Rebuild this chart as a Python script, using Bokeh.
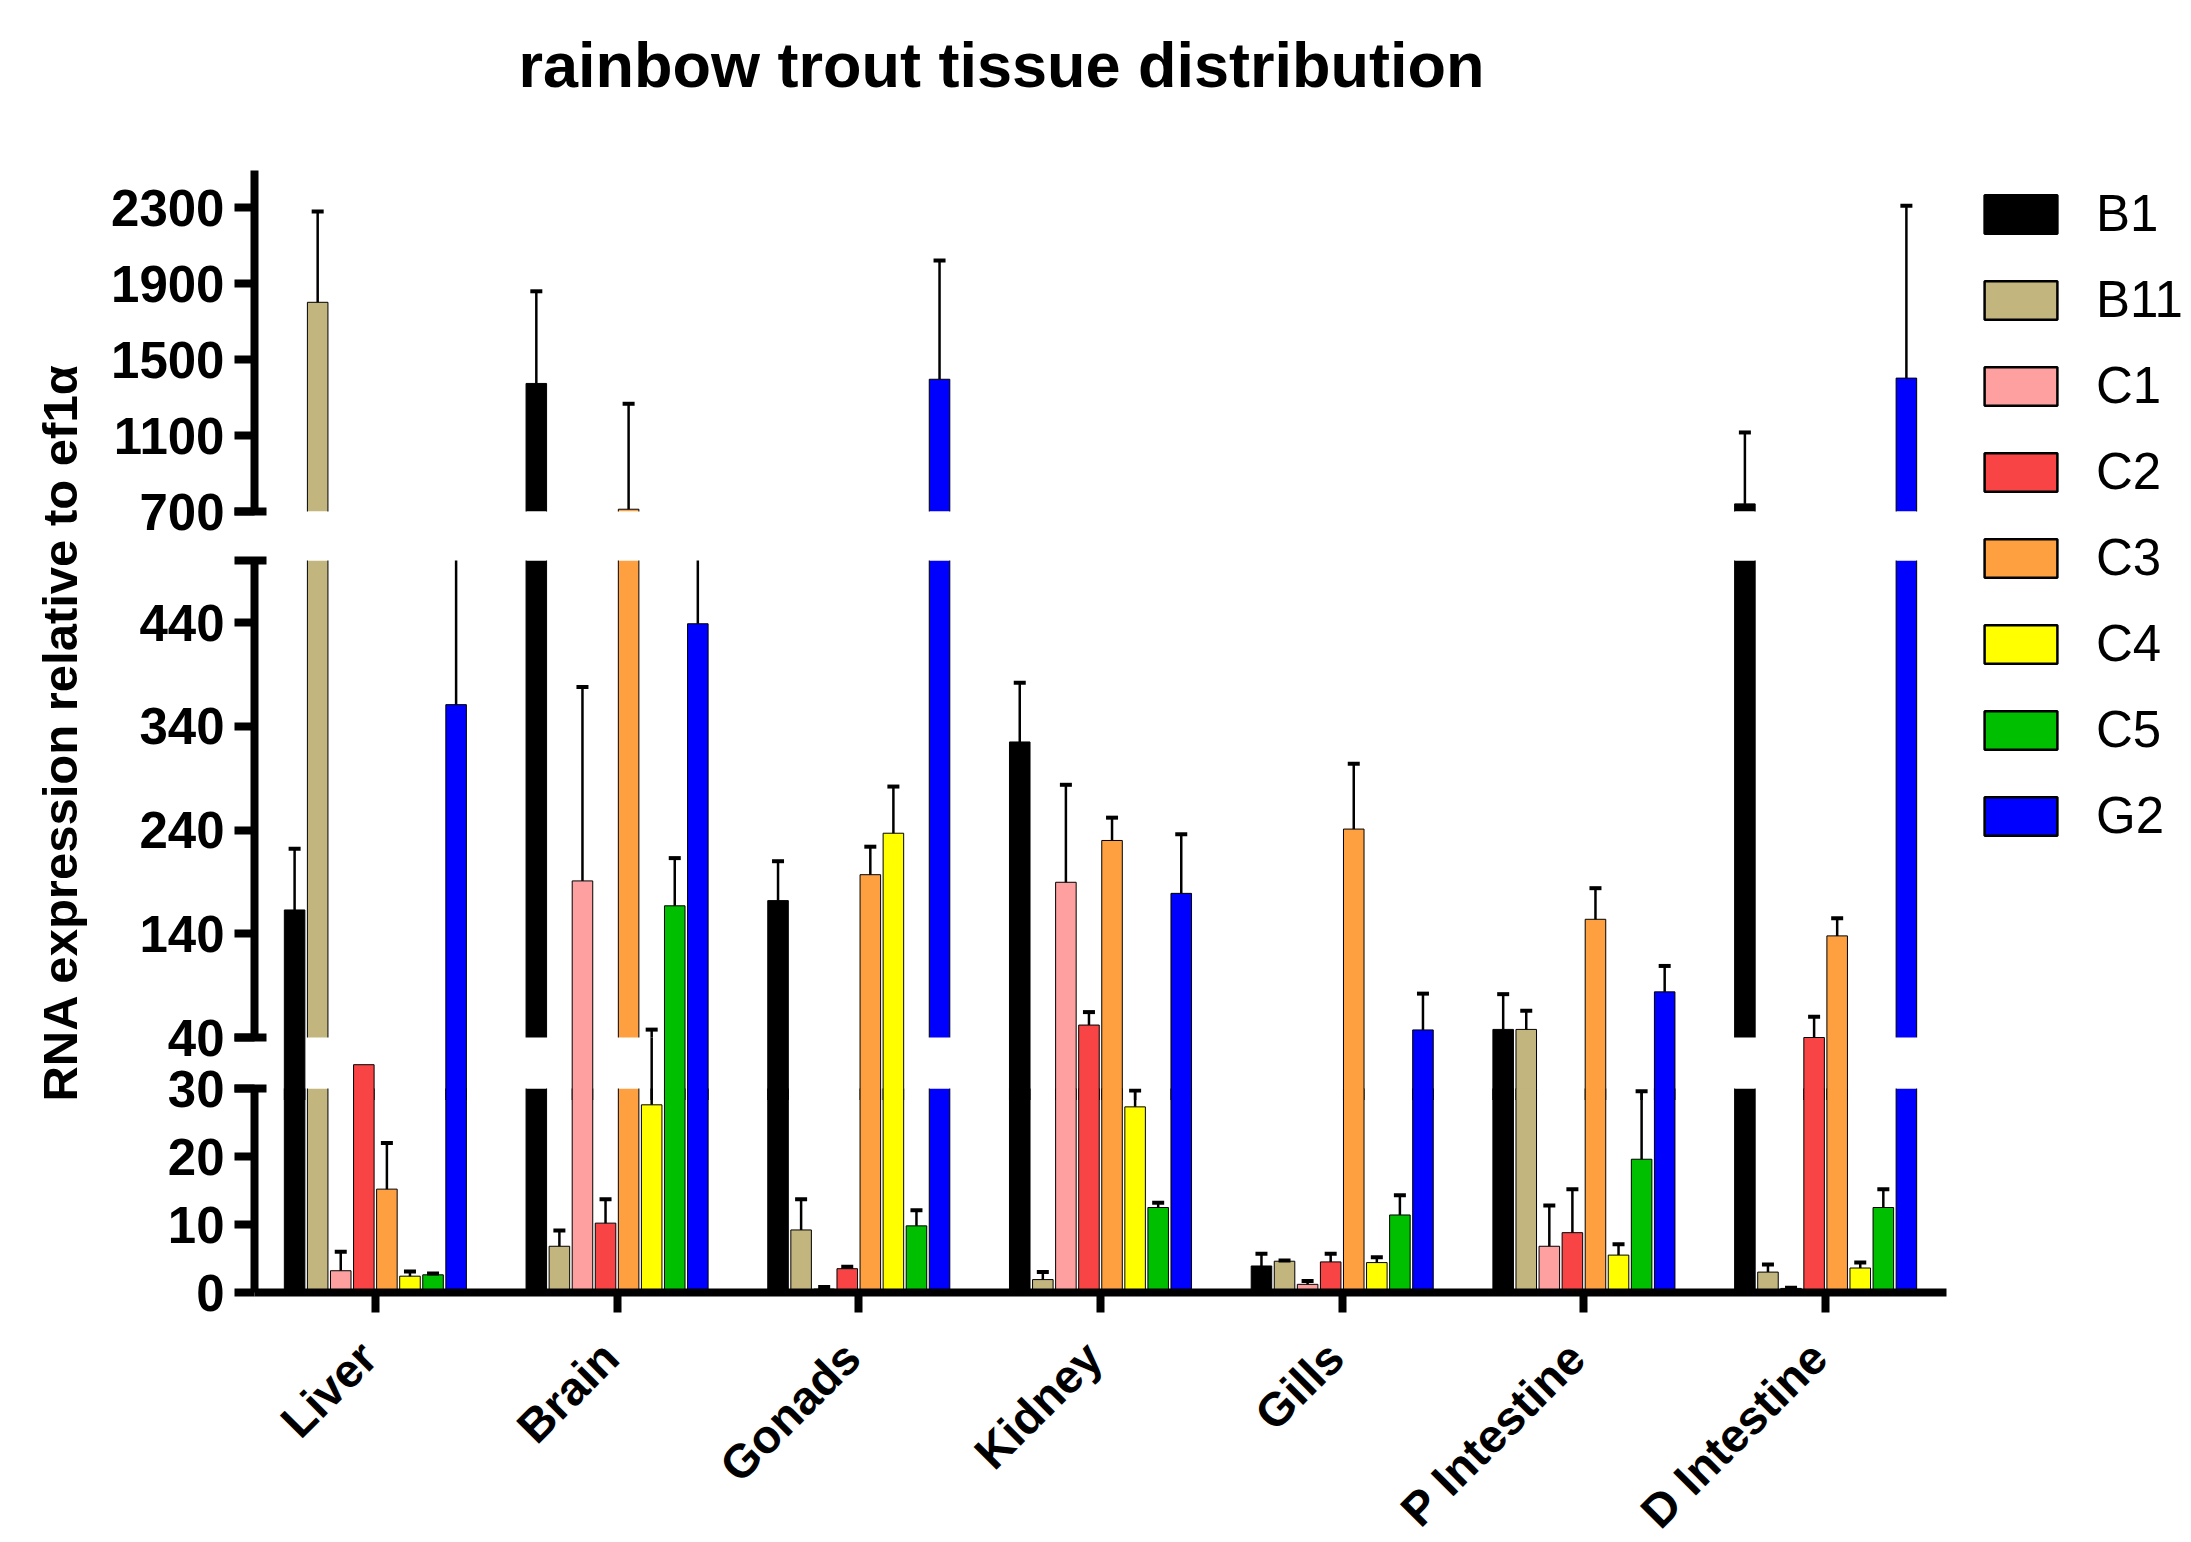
import math
import numpy as np
from bokeh.plotting import figure
from bokeh.models import (ColumnDataSource, FactorRange, Range1d, FixedTicker, Legend,
                          LegendItem, Label, CDSView, BooleanFilter, Title,
                          CustomJSTickFormatter)
from bokeh.transform import dodge
from bokeh.layouts import row, column
from bokeh.embed import file_html
from bokeh.resources import INLINE
from bokeh.core.properties import value

# ---------------- data ----------------
tissues = ["Liver", "Brain", "Gonads", "Kidney", "Gills", "P Intestine", "D Intestine"]
series = ["B1", "B11", "C1", "C2", "C3", "C4", "C5", "G2"]
colors = ["#000000", "#C2B57E", "#FFA0A0", "#F84444", "#FFA040", "#FFFF00", "#00BF00", "#0000FF"]

B1 = [163, 1374, 172, 325, 3.9, 47.8, 740]
B1_err = [59, 485, 38, 57, 1.8, 34, 376]
B11 = [1801, 6.8, 9.2, 1.9, 4.6, 47.8, 3.0]
B11_err = [478, 2.3, 4.5, 1.1, 0.1, 18, 1.1]
C1 = [3.2, 191, 0.5, 189.7, 1.2, 6.8, 0.6]
C1_err = [2.8, 187, 0.3, 94, 0.5, 6.0, 0.1]
C2 = [33.5, 10.2, 3.5, 52, 4.5, 8.8, 40]
C2_err = [0, 3.5, 0.3, 12.5, 1.2, 6.4, 20]
C3 = [15.2, 712, 197, 230, 241, 154, 138]
C3_err = [6.8, 555, 27, 22, 63, 30, 17]
C4 = [2.4, 27.6, 237, 27.3, 4.4, 5.5, 3.6]
C4_err = [0.7, 20, 45, 2.4, 0.8, 1.6, 0.8]
C5 = [2.6, 167, 9.8, 12.5, 11.4, 19.6, 12.5]
C5_err = [0.2, 46, 2.3, 0.7, 2.9, 10.0, 2.7]
G2 = [361, 439, 1396, 179, 47.3, 84, 1402]
G2_err = [240, 180, 625, 57, 35, 25, 907]

means = {"B1": B1, "B11": B11, "C1": C1, "C2": C2, "C3": C3, "C4": C4, "C5": C5, "G2": G2}
errs = {"B1": B1_err, "B11": B11_err, "C1": C1_err, "C2": C2_err, "C3": C3_err,
        "C4": C4_err, "C5": C5_err, "G2": G2_err}

top_ticks = [700, 1100, 1500, 1900, 2300]
mid_ticks = [40, 140, 240, 340, 440]
bot_ticks = [0, 10, 20, 30]

# ---------------- broken-axis layout (pixels of the page) ----------------
FONT = "Liberation Sans"
FT, FB = 170, 1292                      # top and bottom of the plotting area
SEG = {                                  # segment: (value span, pixel span)
    "bot": ((0, 30), (1292, 1088)),
    "mid": ((40, 500), (1037, 560)),
    "top": ((700, 2300), (511, 207)),
}


def val_at(name, px):
    (v0, v1), (p0, p1) = SEG[name]
    return v0 + (p0 - px) * (v1 - v0) / (p0 - p1)


BOT_HI = SEG["bot"][0][1]
MID_LO, MID_HI = SEG["mid"][0]
TOP_LO = SEG["top"][0][0]
GAP_HI_PX = SEG["mid"][1][0]            # 1037: top of lower break
MID_FRAME_BOTTOM = 1100                 # middle panel reaches under the bottom panel
bot_gap_top = val_at("bot", GAP_HI_PX)  # bottom scale continued through the break

# ---------------- source ----------------
data = {"tissue": tissues}
M = {}
for s in series:
    v = np.array(means[s], float)
    e = np.array(errs[s], float)
    h = v + e
    data[s] = v
    data[s + "_hi"] = h
    data[s + "_m0"] = np.maximum(v, MID_LO)
    data[s + "_g1"] = np.minimum(h, bot_gap_top)
    cut = v >= TOP_LO
    has = e > 0
    M[s] = dict(
        cut=cut,
        cont_mid=(~cut) & (v >= MID_LO),
        gapbar=(~cut) & (v > val_at("bot", MID_FRAME_BOTTOM)) & (v < MID_LO),
        gaptop=(~cut) & (v > BOT_HI) & (v < MID_LO),
        all=np.ones(len(v), bool),
        short=v <= BOT_HI,
        err_top=has & cut,
        cap_top=has & cut & (h >= TOP_LO),
        err_mid=has & (~cut) & (h > MID_LO),
        cap_mid=has & (~cut) & (h >= MID_LO) & (h <= MID_HI),
        err_gap=has & (~cut) & (v < bot_gap_top) & (h > val_at("bot", MID_FRAME_BOTTOM)),
        cap_gap=has & (~cut) & (h > BOT_HI) & (h < bot_gap_top),
        err_bot=has & (v < BOT_HI),
        cap_bot=has & (h <= BOT_HI),
    )
src = ColumnDataSource(data)


def view(mask):
    return CDSView(filter=BooleanFilter([bool(b) for b in mask]))


xr = FactorRange(factors=tissues, range_padding=0)
STRIDE = 0.09545
BAR_W = 0.085
W_COL = 1852
offs = {s: (i - 3.5) * STRIDE for i, s in enumerate(series)}
xs = {s: dodge("tissue", offs[s], range=xr) for s in series}
xleft = {s: dodge("tissue", offs[s] - BAR_W / 2, range=xr) for s in series}
xright = {s: dodge("tissue", offs[s] + BAR_W / 2, range=xr) for s in series}


def make_fig(height, y_range, mt, mb, xaxis=False):
    p = figure(width=W_COL, height=height, x_range=xr, y_range=y_range,
               min_border_left=156, min_border_right=4, min_border_top=mt, min_border_bottom=mb,
               x_axis_location="below" if xaxis else None,
               output_backend="svg", toolbar_location=None)
    p.outline_line_color = None
    p.grid.visible = False
    p.background_fill_color = "white"
    p.border_fill_color = "white"
    return p


def style_y(p, ticks, minor, bounds):
    ax = p.yaxis[0]
    ax.ticker = FixedTicker(ticks=ticks, minor_ticks=minor)
    ax.bounds = bounds
    ax.axis_line_width = 8
    ax.axis_line_color = "black"
    ax.major_tick_out = 20
    ax.major_tick_in = 0
    ax.major_tick_line_width = 8
    ax.minor_tick_out = 20
    ax.minor_tick_in = 12
    ax.minor_tick_line_width = 8
    ax.major_label_text_font = FONT
    ax.major_label_text_font_size = "51px"
    ax.major_label_text_font_style = "bold"
    ax.major_label_text_color = "black"
    ax.major_label_standoff = 10


def bars(p, key, bottom, rng="default", top_key=None):
    """Filled bars; outlines drawn as sides (+ a top edge only where the bar really ends)."""
    for i, s in enumerate(series):
        p.vbar(x=xs[s], bottom=bottom, top=s, width=BAR_W, source=src, y_range_name=rng,
               view=view(M[s][key]), fill_color=colors[i], line_color=None)
        for xe in (xleft[s], xright[s]):
            p.segment(x0=xe, y0=bottom, x1=xe, y1=s, source=src, y_range_name=rng,
                      view=view(M[s][key]), line_color="black", line_width=1)
        if top_key is not None:
            p.segment(x0=xleft[s], y0=s, x1=xright[s], y1=s, source=src, y_range_name=rng,
                      view=view(M[s][top_key]), line_color="black", line_width=1)


def errbars(p, err_key, cap_key, y0, y1, rng="default"):
    for s in series:
        p.segment(x0=xs[s], y0=s + y0, x1=xs[s], y1=s + y1, source=src, y_range_name=rng,
                  view=view(M[s][err_key]), line_color="black", line_width=2.5)
        p.scatter(x=xs[s], y=s + "_hi", marker="dash", size=12, source=src, y_range_name=rng,
                  view=view(M[s][cap_key]), line_color="black", line_width=4)


# ---- top segment (with the title) ----
top = make_fig(540, Range1d(val_at("top", 511), val_at("top", FT)), FT, 29)
style_y(top, top_ticks, [TOP_LO], (TOP_LO, val_at("top", FT)))
bars(top, "cut", 0, top_key="cut")
errbars(top, "err_top", "cap_top", "", "_hi")
top.add_layout(Title(text=" ", text_font_size="10px", standoff=58), "above")
top.title.text = "rainbow trout tissue distribution"
top.title.text_font = FONT
top.title.text_font_size = "63px"
top.title.text_font_style = "bold"
top.title.text_color = "black"
top.title.align = "left"
top.title.offset = 264
top.title.standoff = 0

# ---- middle segment + lower break ----
mid_h = 20 + (MID_FRAME_BOTTOM - SEG["mid"][1][1])
mid = make_fig(mid_h, Range1d(val_at("mid", MID_FRAME_BOTTOM), MID_HI), 20, 0)
mid.extra_y_ranges = {"gap": Range1d(val_at("bot", MID_FRAME_BOTTOM), val_at("bot", SEG["mid"][1][1]))}
style_y(mid, mid_ticks, [MID_LO, MID_HI], (MID_LO, MID_HI))
bars(mid, "cut", 0)
mid.quad(left=0, right=len(tissues), bottom=val_at("mid", MID_FRAME_BOTTOM), top=MID_LO,
         fill_color="white", line_color=None)
bars(mid, "cont_mid", val_at("mid", MID_FRAME_BOTTOM) - 5, top_key="cont_mid")
bars(mid, "gapbar", 0, rng="gap", top_key="gaptop")
errbars(mid, "err_mid", "cap_mid", "_m0", "_hi")
errbars(mid, "err_gap", "cap_gap", "", "_g1", rng="gap")

# ---- bottom segment with the category axis (drawn over the lower edge of the middle panel) ----
bot = make_fig(264, Range1d(0, BOT_HI), 30, 30, xaxis=True)
bot.border_fill_alpha = 0
bot.background_fill_alpha = 0
bot.styles = {"margin-top": "-%dpx" % (30 + MID_FRAME_BOTTOM - SEG["bot"][1][1])}
style_y(bot, bot_ticks, [BOT_HI], (0, BOT_HI))
bars(bot, "all", 0, top_key="short")
errbars(bot, "err_bot", "cap_bot", "", "_hi")
xa = bot.xaxis[0]
xa.axis_line_width = 8
xa.axis_line_color = "black"
xa.major_tick_out = 20
xa.major_tick_in = 0
xa.major_tick_line_width = 8
xa.formatter = CustomJSTickFormatter(code="return ''")

# ---- category names under the axis ----
XL_H = 220
xl = figure(width=W_COL, height=XL_H, x_range=xr, y_range=Range1d(XL_H, 0),
            min_border_left=156, min_border_right=4, min_border_top=0, min_border_bottom=0,
            x_axis_location=None, y_axis_location=None, output_backend="svg", toolbar_location=None)
xl.outline_line_color = None
xl.grid.visible = False
xl.text(x="tissue", y=27, text="tissue", source=src, angle=math.pi / 4, x_offset=-7,
        text_align=value("right"), text_baseline=value("middle"),
        text_font=value(FONT), text_font_size=value("47px"), text_font_style=value("bold"),
        text_color="black")

# ---- y-axis title strip ----
ylab = figure(width=98, height=1542, x_range=Range1d(0, 1), y_range=Range1d(0, 1),
              min_border=0, x_axis_location=None, y_axis_location=None,
              output_backend="svg", toolbar_location=None)
ylab.outline_line_color = None
ylab.grid.visible = False
ylab.add_layout(Label(x=59, y=810, x_units="screen", y_units="screen",
                      text="RNA expression relative to ef1α", angle=math.pi / 2,
                      text_align="center", text_baseline="middle",
                      text_font=FONT, text_font_size="49px", text_font_style="bold",
                      text_color="black"))

# ---- legend strip ----
lf = figure(width=241, height=1542, x_range=FactorRange(factors=tissues), y_range=Range1d(0, 1),
            min_border=0, x_axis_location=None, y_axis_location=None,
            output_backend="svg", toolbar_location=None)
lf.outline_line_color = None
lf.grid.visible = False
items = []
for i, s in enumerate(series):
    r = lf.vbar(x="tissue", bottom=0, top=s, width=0.5, source=src,
                fill_color=colors[i], line_color="black", line_width=2.5, visible=False)
    items.append(LegendItem(label=value(s), renderers=[r]))
leg = Legend(items=items, location=(25, 697), glyph_width=91, glyph_height=48,
             label_text_font=FONT, label_text_font_size="51px", label_text_color="black",
             label_standoff=30, spacing=27, padding=0, margin=0,
             border_line_color=None, background_fill_alpha=0)
lf.add_layout(leg)

layout = row(ylab, column(top, mid, bot, xl), lf)

open("out.html", "w").write(file_html(layout, INLINE))
